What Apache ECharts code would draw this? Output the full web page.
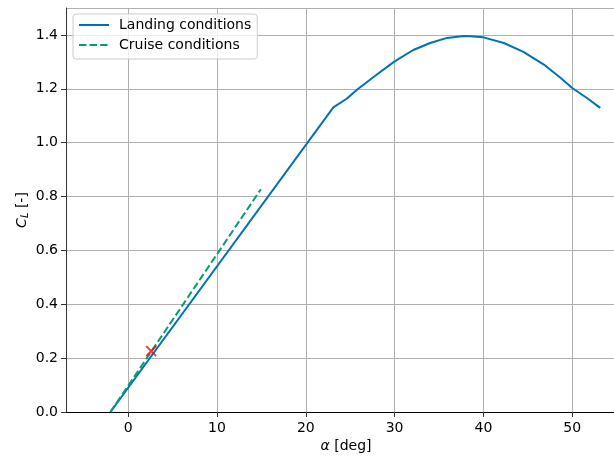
<!DOCTYPE html>
<html>
<head>
<meta charset="utf-8">
<script src="https://cdn.jsdelivr.net/npm/echarts@6/dist/echarts.min.js"></script>
<style>
html,body{margin:0;padding:0;background:#fff;}
#chart{width:614px;height:459px;}
</style>
</head>
<body>
<div id="chart"></div>
<script>
// Data
const landingAlpha = [-2.0, 23.1, 24.6, 25.9, 28.0, 30.0, 32.1, 34.0, 35.9, 37.8, 38.5, 40.0, 42.3, 44.5, 46.8, 48.6, 50.0, 51.65, 53.15];
const landingCL    = [0.0, 1.131, 1.163, 1.200, 1.253, 1.302, 1.344, 1.370, 1.389, 1.396, 1.395, 1.391, 1.370, 1.337, 1.290, 1.243, 1.203, 1.166, 1.129];
const cruiseAlpha = [-2.0, 14.94];
const cruiseCL    = [0.0, 0.827];
const pointAlpha = [2.59];
const pointCL    = [0.226];
const seriesNames = ['Landing conditions', 'Cruise conditions'];

const zip = (a, b) => a.map((v, i) => [v, b[i]]);
const FONT = 'DejaVu Sans';
const FS = 14;

const chart = echarts.init(document.getElementById('chart'), null, {renderer: 'canvas'});
chart.setOption({
  animation: false,
  backgroundColor: '#fff',
  textStyle: {fontFamily: FONT},
  grid: {left: 66, right: 0, top: 8, bottom: 47, containLabel: false},
  legend: {
    data: seriesNames,
    orient: 'vertical',
    left: 73, top: 14,
    padding: [4, 6, 7, 5],
    itemWidth: 30, itemHeight: 14, itemGap: 6,
    itemStyle: {opacity: 0},
    backgroundColor: 'rgba(255,255,255,0.8)',
    borderColor: '#cccccc', borderWidth: 1, borderRadius: 3,
    textStyle: {fontFamily: FONT, fontSize: FS, color: '#000', lineHeight: 14, padding: [0,0,0,5]}
  },
  xAxis: [{
    type: 'value', min: -7, max: 54.7, splitNumber: 6,
    name: '{i|α} [deg]', nameLocation: 'middle', nameGap: 27, nameMoveOverlap: false,
    nameTextStyle: {fontFamily: FONT, fontSize: FS, color: '#000', padding: [0,0,0,12],
      rich: {i: {fontFamily: FONT, fontSize: FS, fontStyle: 'italic', color: '#000'}}},
    axisLine: {show: true, onZero: false, lineStyle: {color: '#333', width: 1}},
    axisTick: {show: true, length: 5, lineStyle: {color: '#333'}},
    axisLabel: {fontFamily: FONT, fontSize: FS, color: '#000', margin: 9, showMinLabel: false, showMaxLabel: false},
    splitLine: {show: true, lineStyle: {color: '#b0b0b0', width: 1}}
  }, {
    type: 'value', position: 'top', min: -7, max: 54.7,
    axisLine: {show: true, lineStyle: {color: '#000', width: 1}},
    axisTick: {show: false}, axisLabel: {show: false}, splitLine: {show: false}
  }],
  yAxis: {
    type: 'value', min: 0, max: 1.5, interval: 0.2,
    name: '{i|C}{s|L} [-]', nameLocation: 'middle', nameGap: 36, nameRotate: 90, nameMoveOverlap: false,
    nameTextStyle: {fontFamily: FONT, fontSize: FS, color: '#000',
      rich: {
        i: {fontFamily: FONT, fontSize: FS, fontStyle: 'italic', color: '#000'},
        s: {fontFamily: FONT, fontSize: 10, fontStyle: 'italic', color: '#000', verticalAlign: 'bottom', padding: [6,0,0,0]}
      }},
    axisLine: {show: true, onZero: false, lineStyle: {color: '#333', width: 1}},
    axisTick: {show: true, length: 5, lineStyle: {color: '#333'}},
    axisLabel: {fontFamily: FONT, fontSize: FS, color: '#000', margin: 8, showMaxLabel: false,
      formatter: v => v.toFixed(1)},
    splitLine: {show: true, lineStyle: {color: '#b0b0b0', width: 1}}
  },
  series: [
    {
      name: seriesNames[0], type: 'line', data: zip(landingAlpha, landingCL),
      showSymbol: false, symbol: 'none', smooth: false,
      lineStyle: {color: '#0072B2', width: 2}, itemStyle: {color: '#0072B2'}, z: 3
    },
    {
      name: seriesNames[1], type: 'line', data: zip(cruiseAlpha, cruiseCL),
      showSymbol: false, symbol: 'none',
      lineStyle: {color: '#009E73', width: 2, type: [7.4, 3.2]}, itemStyle: {color: '#009E73'}, z: 4
    },
    {
      name: 'point', type: 'scatter', data: zip(pointAlpha, pointCL),
      symbol: 'path://M0,0L10,10M10,0L0,10', symbolSize: 10,
      itemStyle: {color: 'none', borderColor: '#ff0000', borderWidth: 2}, z: 5
    }
  ]
});
</script>
</body>
</html>
